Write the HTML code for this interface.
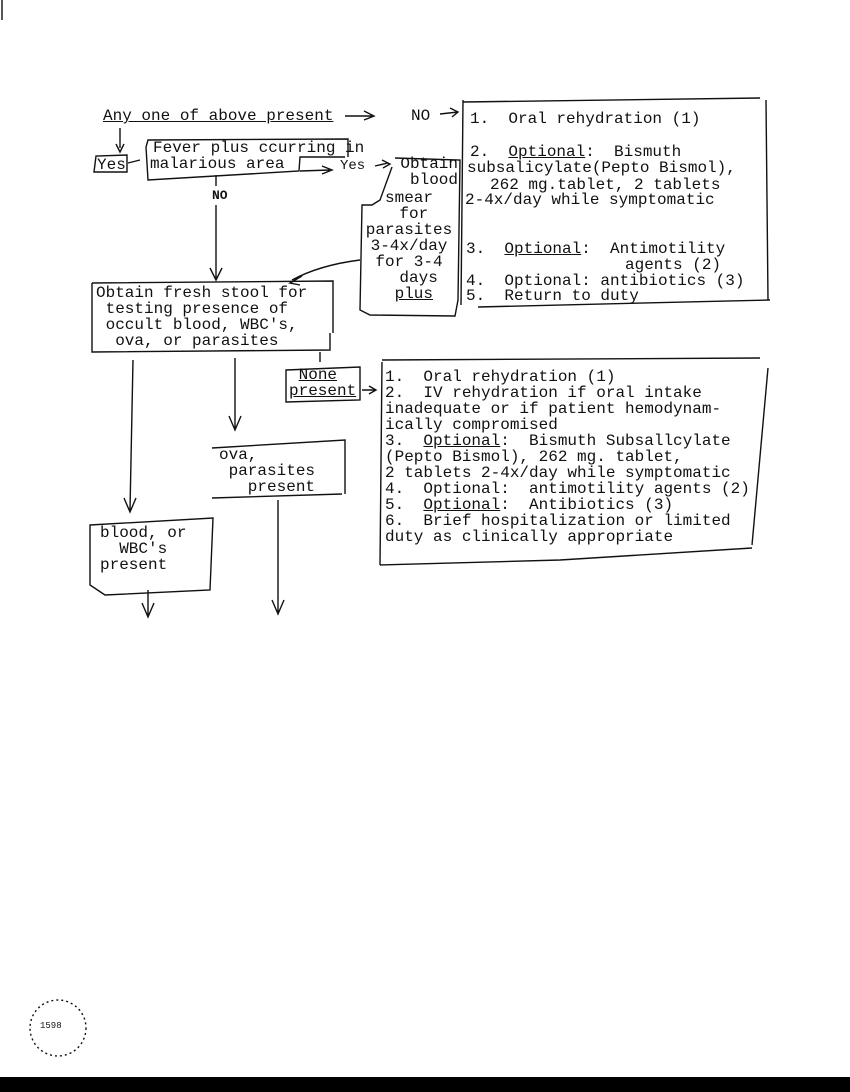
<!DOCTYPE html>
<html><head><meta charset="utf-8"><style>
body{margin:0;width:850px;height:1092px;background:#fff;position:relative;overflow:hidden;font-family:"Liberation Mono",monospace;font-size:16px;color:#111}
.t{position:absolute;white-space:pre;line-height:16px}
u{text-decoration:underline}
svg{position:absolute;left:0;top:0}
</style></head><body>
<svg width="850" height="1092" stroke="#111" stroke-width="1.4" fill="none">
<line x1="2" y1="0" x2="2" y2="20"/>
<polyline points="463,102 760,98"/>
<line x1="463" y1="100" x2="461" y2="305"/>
<line x1="766" y1="100" x2="768" y2="300"/>
<line x1="478" y1="307" x2="770" y2="300"/>
<path d="M345,116 L372,116 M364,111 L374,116 L364,120"/>
<path d="M440,114 L458,112 M450,108 L458,112 L452,117"/>
<path d="M120,128 L120,148 M116,144 L120,152 L124,144"/>
<path d="M94,172 L96,156 L127,155 L127,172 Z"/>
<path d="M128,163 L140,160"/>
<path d="M146,147 L148,140 L348,139 L348,157 M345,157 L300,157 L299,171 L148,180 L146,147"/>
<path d="M300,171 L330,170 M322,166 L332,170 L322,174"/>
<path d="M375,166 L388,163 M382,160 L390,164 L383,168"/>
<path d="M216,175 L216,186"/>
<path d="M392,167 L380,200 L372,205 L362,205 L360,310 L370,315 L455,316 L458,300 L460,160 L395,158"/>
<path d="M216,205 L216,278 M210,268 L216,280 L222,268"/>
<path d="M360,260 Q320,265 292,280 M302,276 L290,283 L300,285"/>
<path d="M92,283 L333,281 L333,333 M330,333 L330,350 L92,352 L92,283"/>
<path d="M320,352 L320,362"/>
<path d="M286,370 L360,367 L360,400 L286,402 Z"/>
<path d="M362,390 L376,390 M369,386 L376,390 L369,394"/>
<line x1="382" y1="360" x2="760" y2="358"/>
<line x1="382" y1="362" x2="380" y2="565"/>
<line x1="768" y1="368" x2="752" y2="545"/>
<path d="M380,565 L560,560 L752,548"/>
<path d="M133,360 L130,510 M124,498 L130,512 L136,498"/>
<path d="M235,358 L235,428 M229,416 L235,430 L241,416"/>
<path d="M212,448 L345,440 L345,494 M342,494 L212,498 Z"/>
<path d="M278,500 L278,612 M272,600 L278,614 L284,600"/>
<path d="M90,525 L213,518 L210,590 L105,595 L90,585 Z"/>
<path d="M148,590 L148,615 M142,603 L148,617 L154,603"/>
<circle cx="58" cy="1028" r="28" stroke-dasharray="2,3"/>
</svg>
<div class="t" style="left:103px;top:108px"><u>Any one of above present</u></div>
<div class="t" style="left:411px;top:108px">NO</div>
<div class="t" style="left:470px;top:111px">1.  Oral rehydration (1)</div>
<div class="t" style="left:470px;top:144px">2.  <u>Optional</u>:  Bismuth</div>
<div class="t" style="left:467px;top:160px">subsalicylate(Pepto Bismol),</div>
<div class="t" style="left:490px;top:177px">262 mg.tablet, 2 tablets</div>
<div class="t" style="left:465px;top:192px">2-4x/day while symptomatic</div>
<div class="t" style="left:466px;top:241px">3.  <u>Optional</u>:  Antimotility</div>
<div class="t" style="left:625px;top:257px">agents (2)</div>
<div class="t" style="left:466px;top:273px">4.  Optional: antibiotics (3)</div>
<div class="t" style="left:466px;top:288px">5.  Return to duty</div>
<div class="t" style="left:153px;top:140px">Fever plus ccurring in</div>
<div class="t" style="left:150px;top:156px">malarious area</div>
<div class="t" style="left:97px;top:157px">Yes</div>
<div class="t" style="left:340px;top:158px;font-size:14px">Yes</div>
<div class="t" style="left:212px;top:188px;font-size:13px;font-weight:bold">NO</div>
<div class="t" style="left:360px;top:156px;width:98px;text-align:right">Obtain
blood</div>
<div class="t" style="left:360px;top:190px;width:98px;text-align:center">smear
 for
parasites
3-4x/day
for 3-4
  days
 <u>plus</u></div>
<div class="t" style="left:96px;top:285px">Obtain fresh stool for
 testing presence of
 occult blood, WBC's,
  ova, or parasites</div>
<div class="t" style="left:289px;top:367px"> <u>None</u>
<u>present</u></div>
<div class="t" style="left:385px;top:369px">1.  Oral rehydration (1)
2.  IV rehydration if oral intake
inadequate or if patient hemodynam-
ically compromised
3.  <u>Optional</u>:  Bismuth Subsallcylate
(Pepto Bismol), 262 mg. tablet,
2 tablets 2-4x/day while symptomatic
4.  Optional:  antimotility agents (2)
5.  <u>Optional</u>:  Antibiotics (3)
6.  Brief hospitalization or limited
duty as clinically appropriate</div>
<div class="t" style="left:219px;top:447px">ova,
 parasites
   present</div>
<div class="t" style="left:100px;top:525px">blood, or
  WBC's
present</div>
<div class="t" style="left:40px;top:1018px;font-size:9px">1598</div>
<div style="position:absolute;left:0;top:1077px;width:850px;height:15px;background:#000"></div>
</body></html>
